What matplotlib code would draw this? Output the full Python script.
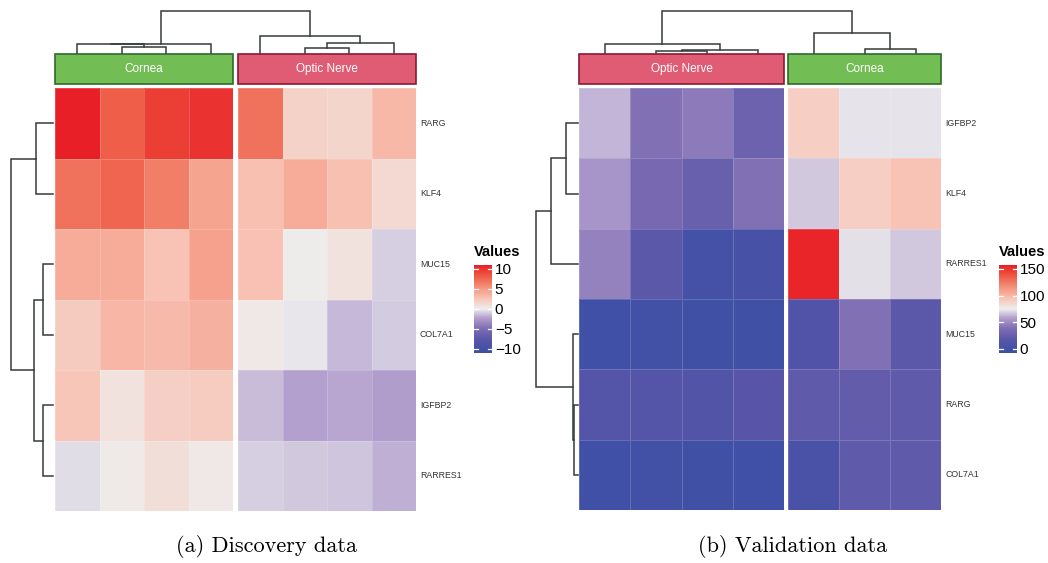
import numpy as np
import matplotlib
matplotlib.use("Agg")
import matplotlib.pyplot as plt
from matplotlib.colors import LinearSegmentedColormap, Normalize
from matplotlib.cm import ScalarMappable
from matplotlib.patches import Rectangle

plt.rcParams['font.family'] = ['Liberation Sans', 'DejaVu Sans']

# ---------- data (a) discovery ----------
genes_a = ["RARG", "KLF4", "MUC15", "COL7A1", "IGFBP2", "RARRES1"]
groups_a = ["Cornea", "Optic Nerve"]
cornea_a = [[11.0, 8.0, 9.5, 10.0],
            [7.0, 7.7, 6.4, 4.4],
            [4.0, 4.0, 2.7, 4.6],
            [2.2, 3.4, 3.2, 3.7],
            [2.5, 0.7, 1.9, 2.1],
            [-0.5, 0.3, 1.0, 0.4]]
optic_a = [[7.0, 1.8, 1.6, 3.3],
           [2.9, 4.0, 2.9, 1.3],
           [2.8, 0.1, 0.7, -0.9],
           [0.4, -0.2, -1.5, -1.0],
           [-1.4, -2.2, -2.0, -2.4],
           [-0.9, -1.1, -1.2, -1.8]]
ticks_a = [-10, -5, 0, 5, 10]
range_a = (-11, 11)
# dendrograms: (left, right, height), leaves are column / row indices
col_tree_a = (((0, (1, 2, 6), 9), 3, 9.5), (4, ((5, 6, 5), 7, 10), 17), 42)
row_tree_a = ((0, 1, 17), ((2, 3, 10), (4, 5, 10), 19), 42)

# ---------- data (b) validation ----------
genes_b = ["IGFBP2", "KLF4", "RARRES1", "MUC15", "RARG", "COL7A1"]
groups_b = ["Optic Nerve", "Cornea"]
optic_b = [[63, 40, 44, 29],
           [54, 35, 27, 40],
           [47, 19, 2, 4],
           [-2, -1, -3, -3],
           [14, 14, 13, 17],
           [-2, -1, -3, -2]]
cornea_b = [[90, 73, 73],
            [67, 90, 95],
            [155, 72, 67],
            [11, 40, 19],
            [22, 24, 22],
            [6, 22, 22]]
ticks_b = [0, 50, 100, 150]
range_b = (-7.5, 157.5)
col_tree_b = ((0, ((1, 2, 2), 3, 3), 9), (4, (5, 6, 4), 20), 42)
row_tree_b = (((0, 1, 12), 2, 27), (3, (4, 5, 4), 5), 42)

group_colors = {"Cornea": ("#72BE55", "#2F6B2B"), "Optic Nerve": ("#E05C74", "#8B1A33")}

cmap = LinearSegmentedColormap.from_list("bwr_lab", [
    (0.0, "#3A4FA5"), (0.15, "#5855A8"), (0.28, "#7F6DB3"), (0.40, "#B3A0CE"),
    (0.5, "#EEEEEE"), (0.62, "#F8C4B6"), (0.75, "#F3917A"), (0.88, "#EE5842"),
    (1.0, "#E81F27")])

W, H = 1048, 563
fig = plt.figure(figsize=(W / 100, H / 100), dpi=100)


def box(x0, y0, x1, y1):
    return [x0 / W, 1 - y1 / H, (x1 - x0) / W, (y1 - y0) / H]


over = fig.add_axes([0, 0, 1, 1])
over.set_xlim(0, W)
over.set_ylim(H, 0)
over.axis("off")


def tree(node, pos, base, cols):
    if isinstance(node, int):
        return pos[node], 0
    l, r, h = node
    pl, hl = tree(l, pos, base, cols)
    pr, hr = tree(r, pos, base, cols)
    p = [pl, pl, pr, pr]
    hh = [base - hl, base - h, base - h, base - hr]
    if cols:
        over.plot(p, hh, color="#353a3a", lw=1.1, solid_joinstyle="miter")
    else:
        over.plot(hh, p, color="#353a3a", lw=1.1, solid_joinstyle="miter")
    return (pl + pr) / 2, h


def panel(blocks, names, genes, xspans, ytop, ybot, norm, ctree, rtree,
          row_base, col_base, label_x, leg_x, ticks):
    centers = []
    for vals, name, (x0, x1) in zip(blocks, names, xspans):
        vals = np.array(vals, dtype=float)
        ax = fig.add_axes(box(x0, ytop, x1, ybot))
        ax.pcolormesh(vals, cmap=cmap, norm=norm, edgecolors=(1, 1, 1, 0.18), linewidth=0.5)
        ax.set_ylim(vals.shape[0], 0)
        ax.axis("off")
        n = vals.shape[1]
        cw = (x1 - x0) / n
        centers += [x0 + cw * (i + 0.5) for i in range(n)]
        # annotation bar
        fc, ec = group_colors[name]
        over.add_patch(Rectangle((x0, 54), x1 - x0, 30, facecolor=fc, edgecolor=ec, lw=1.2))
        over.text((x0 + x1) / 2, 69, name, color="white", ha="center", va="center", fontsize=8.5)
    rh = (ybot - ytop) / len(genes)
    rows = [ytop + rh * (i + 0.5) for i in range(len(genes))]
    for g, y in zip(genes, rows):
        over.text(label_x, y, g, ha="left", va="center", fontsize=6.3, color="#333333")
    tree(ctree, centers, col_base, True)
    tree(rtree, rows, row_base, False)
    # legend
    over.text(leg_x, 252, "Values", ha="left", va="center", fontsize=10.5, fontweight="bold")
    cax = fig.add_axes(box(leg_x, 265, leg_x + 18, 353))
    cb = fig.colorbar(ScalarMappable(norm=norm, cmap=cmap), cax=cax, ticks=ticks)
    cb.outline.set_visible(False)
    cax.tick_params(length=0, labelsize=11, pad=2)
    for t in ticks:
        cax.plot([0, 0.22], [t, t], color="white", lw=0.9, transform=cax.get_yaxis_transform())
        cax.plot([0.78, 1], [t, t], color="white", lw=0.9, transform=cax.get_yaxis_transform())


panel([cornea_a, optic_a], groups_a, genes_a, [(55, 233), (238, 416)], 88, 511,
      Normalize(*range_a), col_tree_a, row_tree_a, 53, 53, 420, 474, ticks_a)
panel([optic_b, cornea_b], groups_b, genes_b, [(579, 784), (788, 941)], 88, 510,
      Normalize(*range_b), col_tree_b, row_tree_b, 578, 53, 945, 999, ticks_b)

fig.text(266 / W, 1 - 546 / H, "(a) Discovery data", ha="center", va="center",
         family="cmr10", fontsize=16)
fig.text(793 / W, 1 - 546 / H, "(b) Validation data", ha="center", va="center",
         family="cmr10", fontsize=16)

fig.savefig("out.png", dpi=100)
